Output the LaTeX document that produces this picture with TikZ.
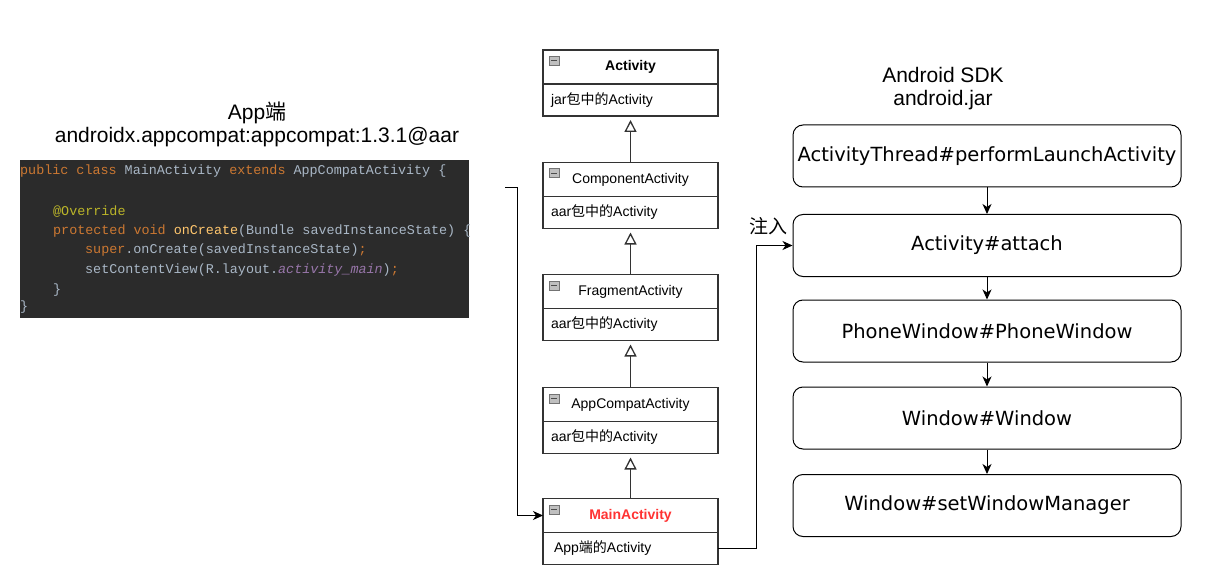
\documentclass[tikz,border=0pt]{standalone}
\usepackage{fontspec}
\setmainfont{Liberation Sans}
\setmonofont{Liberation Mono}
\newfontfamily\cjk{Noto Sans CJK SC}
\newfontfamily\sdkfont{DejaVu Sans}
\usetikzlibrary{arrows.meta,positioning}

\definecolor{codebg}{HTML}{2B2B2B}
\definecolor{kw}{HTML}{CC7832}
\definecolor{plain}{HTML}{A9B7C6}
\definecolor{anno}{HTML}{BBB529}
\definecolor{meth}{HTML}{FFC66D}
\definecolor{fld}{HTML}{9876AA}
\definecolor{mainred}{HTML}{FF3333}

\tikzset{
  classhead/.style={draw=black!80, line width=1.3pt, outer sep=0pt, inner sep=0pt,
    minimum width=175pt, minimum height=34pt, font=\fontsize{14}{16}\selectfont},
  classbody/.style={draw=black!80, line width=1.3pt, outer sep=0pt, inner xsep=8pt, inner ysep=0pt,
    text width=159pt, minimum height=32pt, align=left, font=\fontsize{14}{16}\selectfont},
  minusbox/.style={draw=black!55, fill=black!25, minimum width=10pt, minimum height=9pt, inner sep=0pt,
    path picture={\draw[black!70, line width=1.2pt] ([xshift=2pt]path picture bounding box.west) -- ([xshift=-2pt]path picture bounding box.east);}},
  callbox/.style={draw, line width=1pt, rounded corners=10pt, minimum width=388pt, minimum height=62pt,
    font=\sdkfont\fontsize{19.5}{22}\selectfont},
  title/.style={font=\fontsize{21}{24}\selectfont, inner sep=0pt},
  code/.style={anchor=base west, inner sep=0pt, text=plain, font=\ttfamily\fontsize{13.4}{16}\selectfont},
  inherit/.style={draw=black!80, line width=1.3pt, -{Triangle[open, length=12pt, width=12pt]}, shorten >=4pt},
  flow/.style={line width=1pt, -{Stealth[length=10pt, width=9pt, inset=3pt]}}
}

\begin{document}
\begin{tikzpicture}[x=1pt, y=-1pt]
\useasboundingbox (0,0) rectangle (1210,580);

% App side titles
\node[title] (appTitle) at (257,113) {App{\cjk 端}};
\node[title] (aarTitle) at (257,137) {androidx.appcompat:appcompat:1.3.1@aar};

% code snippet
\begin{scope}
  \clip (20,160) rectangle (469,318);
  \fill[codebg] (20,160) rectangle (469,318);
  \node[code] (c1) at (20,175) {\textcolor{kw}{public class} MainActivity \textcolor{kw}{extends} AppCompatActivity \{};
  \node[code] (c2) at (53,215) {\textcolor{anno}{@Override}};
  \node[code] (c3) at (53,234) {\textcolor{kw}{protected void} \textcolor{meth}{onCreate}(Bundle savedInstanceState) \{};
  \node[code] (c4) at (85,254) {\textcolor{kw}{super}.onCreate(savedInstanceState)\textcolor{kw}{;}};
  \node[code] (c5) at (85,273) {setContentView(R.layout.\textcolor{fld}{\itshape activity\_main})\textcolor{kw}{;}};
  \node[code] (c6) at (53,293) {\}};
  \node[code] (c7) at (20,310) {\}};
\end{scope}

% class hierarchy
\node[classhead] (actHead) at (630.5,67) {\bfseries Activity};
\node[classbody, below=0pt of actHead] (actBody) {jar{\cjk 包中的}Activity};
\node[classhead] (compHead) at (630.5,179.5) {ComponentActivity};
\node[classbody, below=0pt of compHead] (compBody) {aar{\cjk 包中的}Activity};
\node[classhead] (fragHead) at (630.5,291.5) {FragmentActivity};
\node[classbody, below=0pt of fragHead] (fragBody) {aar{\cjk 包中的}Activity};
\node[classhead] (compatHead) at (630.5,404.5) {AppCompatActivity};
\node[classbody, below=0pt of compatHead] (compatBody) {aar{\cjk 包中的}Activity};
\node[classhead, text=mainred] (mainHead) at (630.5,515.5) {\bfseries MainActivity};
\node[classbody, below=0pt of mainHead] (mainBody) {\hspace{3pt}App{\cjk 端的}Activity};

\foreach \c in {actHead, compHead, fragHead, compatHead, mainHead}
  \node[minusbox, anchor=north west] at ([shift={(6pt,-6pt)}]\c.north west) {};

\draw[inherit] (compHead.north) -- (actBody.south);
\draw[inherit] (fragHead.north) -- (compBody.south);
\draw[inherit] (compatHead.north) -- (fragBody.south);
\draw[inherit] (mainHead.north) -- (compatBody.south);

% SDK side
\node[title] (sdkTitle) at (943,75) {Android SDK};
\node[title] (jarTitle) at (943,100) {android.jar};

\node[callbox] (launch) at (987,156) {ActivityThread\#performLaunchActivity};
\node[callbox] (attach) at (987,245.5) {Activity\#attach};
\node[callbox] (phone) at (987,331) {PhoneWindow\#PhoneWindow};
\node[callbox] (window) at (987,418) {Window\#Window};
\node[callbox] (wm) at (987,505.5) {Window\#setWindowManager};

\draw[flow] (launch) -- (attach);
\draw[flow] (attach) -- (phone);
\draw[flow] (phone) -- (window);
\draw[flow] (window) -- (wm);

% connectors
\coordinate (codeOut) at (505,188);
\draw[flow] (codeOut) -- ++(12,0) |- (mainHead.west);
\draw[flow] (mainBody.east) -- ++(38,0) |- (attach.west);
\node[font=\cjk\fontsize{19}{22}\selectfont] (inject) at (768,226) {注入};
\end{tikzpicture}
\end{document}
